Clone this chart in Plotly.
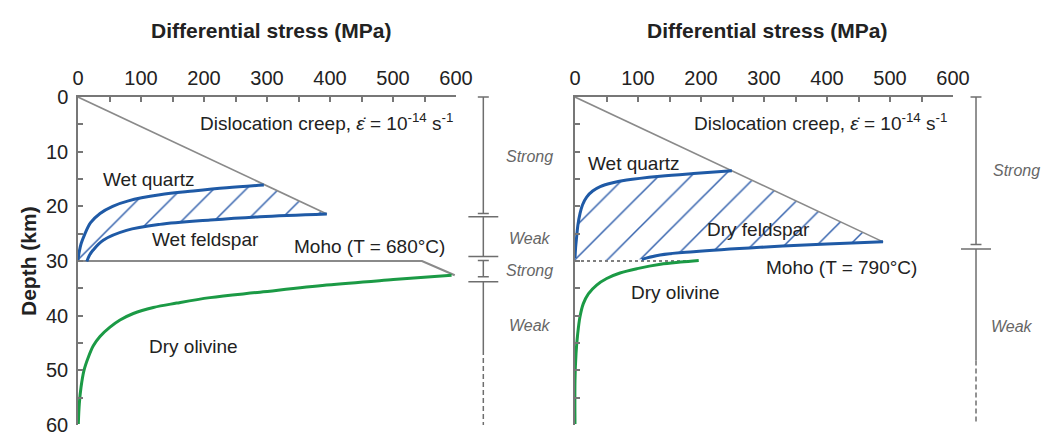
import plotly.graph_objects as go

# ---------------- data ----------------
stress_ticks = [0, 100, 200, 300, 400, 500, 600]
depth_ticks = [0, 10, 20, 30, 40, 50, 60]

# Left panel (Moho T = 680 C)
L_creep_x = [0, 395]
L_creep_y = [0, 21.4]
L_moho_x = [0, 546, 598]
L_moho_y = [30, 30, 32.6]
L_quartz_x = [0, 2, 5, 10, 20, 35, 55, 80, 130, 183, 236, 295]
L_quartz_y = [29.8, 28.3, 26.8, 25.3, 23.0, 21.3, 20.0, 19.0, 17.9, 17.2, 16.6, 16.1]
L_feld_x = [14, 18, 24, 40, 77, 130, 210, 289, 395]
L_feld_y = [30.1, 29.0, 28.0, 26.2, 24.4, 23.3, 22.5, 21.9, 21.4]
L_oliv_x = [0.5, 2.1, 4.8, 9.5, 16.4, 24.3, 34.9, 50.8, 66.7, 87.8, 119.6, 156.6, 209.5, 288.9, 394.7, 500.5, 593]
L_oliv_y = [59.8, 56.1, 53.1, 50.0, 47.6, 45.5, 43.8, 42.1, 40.8, 39.6, 38.5, 37.7, 36.7, 35.7, 34.4, 33.4, 32.6]

# Right panel (Moho T = 790 C)
R_creep_x = [0, 489]
R_creep_y = [0, 26.5]
R_moho_x = [0, 196]
R_moho_y = [30, 30]
R_quartz_x = [0, 1, 2.6, 4.5, 8, 12, 18.5, 28, 40, 60, 82, 135, 188, 249]
R_quartz_y = [29.5, 27.5, 25.6, 23.5, 21.3, 19.7, 18.3, 17.2, 16.4, 15.7, 15.2, 14.5, 14.0, 13.5]
R_feld_x = [106, 135, 188, 294, 400, 489]
R_feld_y = [29.7, 28.9, 28.3, 27.5, 26.9, 26.5]
R_oliv_x = [0, 0, 1.6, 4.3, 7.9, 13.2, 21.2, 34.4, 50.3, 71.4, 98.7, 135.7, 167.5, 196.4]
R_oliv_y = [59.8, 51.8, 47.0, 43.3, 40.2, 37.8, 36.0, 34.4, 33.2, 32.2, 31.4, 30.6, 30.2, 29.9]

# Strength profiles (depth ranges, km)
L_strong = [(0, 21.3), (29.9, 32.9)]
L_weak = [(21.9, 29.2), (33.8, 46.3)]
L_weak_dashed = (46.3, 60)
L_zone_labels = ["Strong", "Weak", "Strong", "Weak"]
L_zone_label_y = [10.9, 25.8, 31.7, 41.8]

R_strong = [(0, 27.0)]
R_weak = [(27.8, 48.2)]
R_weak_dashed = (48.2, 59.4)
R_zone_labels = ["Strong", "Weak"]
R_zone_label_y = [13.5, 42.0]

# ---------------- style ----------------
FONT = "Liberation Sans, Arial, sans-serif"
BLUE = "#1f5aa6"
HATCH = "#3462ad"
GREEN = "#1b9a45"
GRAY = "#8a8a8a"
AXIS = "#777777"
BARC = "#6e6e6e"
TXT = "#222222"

W, H = 1045, 435
px = lambda p: p / W
py = lambda p: 1 - p / H

dom_y = [py(425), py(97)]
per_km = (dom_y[1] - dom_y[0]) / 60.0
bar_dom_y = [dom_y[0] - per_km, dom_y[1] + per_km]

fig = go.Figure()


def line(x, y, color, width, xa, ya, shape="linear", dash=None):
    fig.add_trace(go.Scatter(
        x=x, y=y, mode="lines", xaxis=xa, yaxis=ya, hoverinfo="skip",
        line=dict(color=color, width=width, shape=shape, dash=dash,
                  smoothing=1.0 if shape == "spline" else None),
        showlegend=False))


def hatch(x, y, xa, ya):
    fig.add_trace(go.Scatter(
        x=x, y=y, mode="lines", fill="toself", xaxis=xa, yaxis=ya,
        hoverinfo="skip", line=dict(width=0, color="rgba(0,0,0,0)"),
        fillcolor="rgba(0,0,0,0)",
        fillpattern=dict(shape="/", fgcolor=HATCH, fgopacity=1, size=23, solidity=0.065),
        showlegend=False))


# Left panel
hatch(L_quartz_x + L_feld_x[::-1] + [0], L_quartz_y + L_feld_y[::-1] + [30], "x", "y")
line(L_creep_x, L_creep_y, GRAY, 1.6, "x", "y")
line(L_moho_x, L_moho_y, GRAY, 2.2, "x", "y")
line(L_quartz_x, L_quartz_y, BLUE, 3, "x", "y", "spline")
line(L_feld_x, L_feld_y, BLUE, 3, "x", "y", "spline")
line(L_oliv_x, L_oliv_y, GREEN, 3, "x", "y", "spline")

# Right panel
hatch(R_quartz_x + R_feld_x[::-1] + [0], R_quartz_y + R_feld_y[::-1] + [30], "x2", "y2")
line(R_creep_x, R_creep_y, GRAY, 1.6, "x2", "y2")
line(R_moho_x, R_moho_y, "#555555", 1.4, "x2", "y2", dash="dot")
line(R_quartz_x, R_quartz_y, BLUE, 3, "x2", "y2", "spline")
line(R_feld_x, R_feld_y, BLUE, 3, "x2", "y2", "spline")
line(R_oliv_x, R_oliv_y, GREEN, 3, "x2", "y2", "spline")


def strength_bar(strong, weak, dashed, xb, short_w, long_w, xa, ya):
    for a, b in strong:
        line([xb, xb], [a, b], BARC, 1.5, xa, ya)
        for d in (a, b):
            line([xb - short_w, xb + short_w], [d, d], BARC, 1.5, xa, ya)
    for a, b in weak:
        line([xb, xb], [a, b], BARC, 1.5, xa, ya)
        line([xb - long_w, xb + long_w], [a, a], BARC, 1.5, xa, ya)
    for a, b in weak:
        if any(abs(s[0] - b) < 1.5 for s in strong):
            line([xb - long_w, xb + long_w], [b, b], BARC, 1.5, xa, ya)
    line([xb, xb], list(dashed), BARC, 1.5, xa, ya, dash="5px,3px")


strength_bar(L_strong, L_weak, L_weak_dashed, 0.212, 0.05, 0.136, "x3", "y3")
strength_bar(R_strong, R_weak, R_weak_dashed, 0.343, 0.052, 0.143, "x4", "y4")

# ---------------- axes ----------------
common_x = dict(range=[0, 600], side="top", showline=True, linecolor=AXIS, linewidth=1.5,
                ticks="inside", ticklen=5, tickcolor=AXIS, tickwidth=1.5,
                tickvals=stress_ticks, showgrid=False, zeroline=False, automargin=False,
                minor=dict(dtick=50, ticks="inside", ticklen=5, tickcolor=AXIS, tickwidth=1.5),
                tickfont=dict(family=FONT, size=20, color=TXT), ticklabelstandoff=2,
                ticklabeloverflow="allow")
common_y = dict(range=[60, 0], showline=True, linecolor=AXIS, linewidth=1.5,
                ticks="inside", ticklen=5, tickcolor=AXIS, tickwidth=1.5,
                tickvals=depth_ticks, showgrid=False, zeroline=False, automargin=False,
                minor=dict(dtick=5, ticks="inside", ticklen=5, tickcolor=AXIS, tickwidth=1.5),
                tickfont=dict(family=FONT, size=20, color=TXT), ticklabelstandoff=4,
                ticklabeloverflow="allow")
hidden = dict(visible=False, showgrid=False, zeroline=False, automargin=False)

fig.update_layout(
    width=W, height=H, margin=dict(l=0, r=0, t=0, b=0, autoexpand=False),
    paper_bgcolor="white", plot_bgcolor="rgba(0,0,0,0)", showlegend=False,
    font=dict(family=FONT, color=TXT),
    xaxis=dict(common_x, domain=[px(78), px(456)], anchor="y"),
    yaxis=dict(common_y, domain=dom_y, anchor="x"),
    xaxis2=dict(common_x, domain=[px(575), px(953)], anchor="y2"),
    yaxis2=dict(common_y, domain=dom_y, anchor="x2", showticklabels=False),
    xaxis3=dict(hidden, domain=[px(460), px(570)], range=[0, 1], anchor="y3"),
    yaxis3=dict(hidden, domain=bar_dom_y, range=[61, -1], anchor="x3"),
    xaxis4=dict(hidden, domain=[px(940), 1.0], range=[0, 1], anchor="y4"),
    yaxis4=dict(hidden, domain=bar_dom_y, range=[61, -1], anchor="x4"),
)

ann = []
for xa, xc in (("x", 0.51), ("x2", 0.508)):
    ann.append(dict(text="<b>Differential stress (MPa)</b>", xref=xa + " domain", x=xc,
                    yref="paper", y=py(31), xanchor="center", yanchor="middle",
                    showarrow=False, font=dict(family=FONT, size=21, color=TXT)))
ann.append(dict(text="<b>Depth (km)</b>", xref="paper", x=px(28), yref="y domain", y=0.5,
                textangle=-90, xanchor="center", yanchor="middle", showarrow=False,
                font=dict(family=FONT, size=21, color=TXT)))

creep_txt = "Dislocation creep, <i>\u03b5\u0307</i> = 10<sup>-14</sup> s<sup>-1</sup>"
ann.append(dict(text=creep_txt, xref="x", yref="y", x=598, y=4.5, xanchor="right",
                yanchor="middle", showarrow=False, font=dict(family=FONT, size=19, color=TXT)))
ann.append(dict(text=creep_txt, xref="x2", yref="y2", x=593, y=4.5, xanchor="right",
                yanchor="middle", showarrow=False, font=dict(family=FONT, size=19, color=TXT)))

labels = [
    ("x", "y", "Wet quartz", 113, 15.1),
    ("x", "y", "Wet feldspar", 203, 26.1),
    ("x", "y", "Moho (T = 680°C)", 463, 27.4),
    ("x", "y", "Dry olivine", 184, 45.6),
    ("x2", "y2", "Wet quartz", 93, 12.2),
    ("x2", "y2", "Dry feldspar", 291, 24.2),
    ("x2", "y2", "Moho (T = 790°C)", 423, 31.1),
    ("x2", "y2", "Dry olivine", 160, 35.8),
]
for xa, ya, t, xv, yv in labels:
    ann.append(dict(text=t, xref=xa, yref=ya, x=xv, y=yv, xanchor="center",
                    yanchor="middle", showarrow=False,
                    font=dict(family=FONT, size=19, color=TXT)))

for t, yv in zip(L_zone_labels, L_zone_label_y):
    ann.append(dict(text="<i>%s</i>" % t, xref="x3", yref="y3", x=0.636, y=yv,
                    xanchor="center", yanchor="middle", showarrow=False,
                    font=dict(family=FONT, size=16, color="#666666")))
for t, yv, xv in zip(R_zone_labels, R_zone_label_y, [0.733, 0.686]):
    ann.append(dict(text="<i>%s</i>" % t, xref="x4", yref="y4", x=xv, y=yv,
                    xanchor="center", yanchor="middle", showarrow=False,
                    font=dict(family=FONT, size=16, color="#666666")))

fig.update_layout(annotations=ann)
fig.write_html("out.html")
